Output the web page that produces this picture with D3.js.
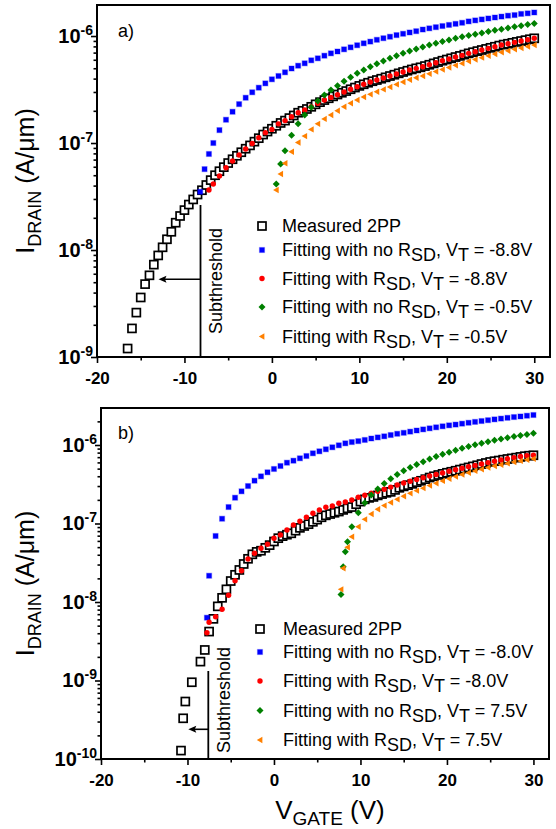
<!DOCTYPE html>
<html>
<head>
<meta charset="utf-8">
<script src="https://cdn.jsdelivr.net/npm/d3@7"></script>
<style>
  body { margin: 0; background: #fff; }
  svg { display: block; }
</style>
</head>
<body>
<svg id="chart" width="556" height="829"></svg>
<script>
// ---- data: [V_GATE (V), I_DRAIN (A/um)] ----

// panel a) measured 2PP and the four fits
const measuredA = [[-16.5,1.2e-9],[-16,1.85e-9],[-15.5,2.6e-9],[-15,3.6e-9],[-14.5,4.8e-9],[-14,5.8e-9],[-13.5,7.3e-9],[-13,8.9e-9],[-12.5,1.06e-8],[-12,1.26e-8],[-11.5,1.48e-8],[-11,1.8e-8],[-10.5,2.08e-8],[-10,2.36e-8],[-9.5,2.66e-8],[-9,2.97e-8],[-8.5,3.3e-8],[-8,3.62e-8],[-7.5,4.05e-8],[-7,4.5e-8],[-6.5,5.0e-8],[-6,5.45e-8],[-5.5,5.95e-8],[-5,6.5e-8],[-4.5,7.05e-8],[-4,7.6e-8],[-3.5,8.2e-8],[-3,8.85e-8],[-2.5,9.5e-8],[-2,1.03e-7],[-1.5,1.11e-7],[-1,1.2e-7],[-0.5,1.28e-7],[0,1.36e-7],[0.5,1.45e-7],[1,1.54e-7],[1.5,1.62e-7],[2,1.71e-7],[2.5,1.81e-7],[3,1.92e-7],[3.5,2.0e-7],[4,2.08e-7],[4.5,2.18e-7],[5,2.3e-7],[5.5,2.41e-7],[6,2.52e-7],[6.5,2.62e-7],[7,2.73e-7],[7.5,2.84e-7],[8,2.95e-7],[8.5,3.06e-7],[9,3.18e-7],[9.5,3.3e-7],[10,3.42e-7],[10.5,3.54e-7],[11,3.66e-7],[11.5,3.78e-7],[12,3.88e-7],[12.5,3.99e-7],[13,4.11e-7],[13.5,4.23e-7],[14,4.35e-7],[14.5,4.48e-7],[15,4.61e-7],[15.5,4.74e-7],[16,4.87e-7],[16.5,4.99e-7],[17,5.1e-7],[17.5,5.24e-7],[18,5.39e-7],[18.5,5.55e-7],[19,5.71e-7],[19.5,5.88e-7],[20,6.03e-7],[20.5,6.19e-7],[21,6.36e-7],[21.5,6.52e-7],[22,6.7e-7],[22.5,6.89e-7],[23,7.06e-7],[23.5,7.23e-7],[24,7.4e-7],[24.5,7.58e-7],[25,7.76e-7],[25.5,7.94e-7],[26,8.14e-7],[26.5,8.32e-7],[27,8.47e-7],[27.5,8.64e-7],[28,8.81e-7],[28.5,8.98e-7],[29,9.15e-7],[29.5,9.33e-7],[30,9.52e-7]];

const noRsdA1 = [[-8.2,3.5e-8],[-7.7,5.7e-8],[-7.2,7.9e-8],[-6.7,1.0e-7],[-6,1.32e-7],[-5.25,1.65e-7],[-4.5,1.96e-7],[-3.75,2.31e-7],[-3,2.65e-7],[-2.25,2.98e-7],[-1.5,3.29e-7],[-0.75,3.61e-7],[0,3.94e-7],[0.75,4.23e-7],[1.5,4.58e-7],[2.25,4.97e-7],[3,5.28e-7],[3.75,5.56e-7],[4.5,5.93e-7],[5.25,6.19e-7],[6,6.55e-7],[6.75,6.89e-7],[7.5,7.17e-7],[8.25,7.51e-7],[9,7.84e-7],[9.75,8.2e-7],[10.5,8.55e-7],[11.25,8.87e-7],[12,9.22e-7],[12.75,9.54e-7],[13.5,9.85e-7],[14.25,1.02e-6],[15,1.05e-6],[15.75,1.08e-6],[16.5,1.11e-6],[17.25,1.15e-6],[18,1.18e-6],[18.75,1.21e-6],[19.5,1.24e-6],[20.25,1.27e-6],[21,1.3e-6],[21.75,1.33e-6],[22.5,1.37e-6],[23.25,1.4e-6],[24,1.43e-6],[24.75,1.46e-6],[25.5,1.49e-6],[26.25,1.52e-6],[27,1.55e-6],[27.75,1.57e-6],[28.5,1.61e-6],[29.25,1.63e-6],[30,1.66e-6]];

const rsdA1 = [[-7.2,3.64e-8],[-6.7,4.14e-8],[-6,4.92e-8],[-5.25,5.88e-8],[-4.5,6.79e-8],[-3.75,7.73e-8],[-3,8.79e-8],[-2.25,9.89e-8],[-1.5,1.12e-7],[-0.75,1.25e-7],[0,1.34e-7],[0.75,1.51e-7],[1.5,1.62e-7],[2.25,1.76e-7],[3,1.92e-7],[3.75,2.04e-7],[4.5,2.18e-7],[5.25,2.35e-7],[6,2.52e-7],[6.75,2.67e-7],[7.5,2.83e-7],[8.25,3.0e-7],[9,3.18e-7],[9.75,3.36e-7],[10.5,3.54e-7],[11.25,3.72e-7],[12,3.88e-7],[12.75,4.05e-7],[13.5,4.23e-7],[14.25,4.41e-7],[15,4.61e-7],[15.75,4.81e-7],[16.5,4.99e-7],[17.25,5.16e-7],[18,5.39e-7],[18.75,5.63e-7],[19.5,5.88e-7],[20.25,6.1e-7],[21,6.36e-7],[21.75,6.6e-7],[22.5,6.89e-7],[23.25,7.14e-7],[24,7.4e-7],[24.75,7.67e-7],[25.5,7.94e-7],[26.25,8.24e-7],[27,8.47e-7],[27.75,8.73e-7],[28.5,8.98e-7],[29.25,9.24e-7],[30,9.52e-7]];

const noRsdA2 = [[0.5,4.14e-8],[1,6.36e-8],[1.5,8.47e-8],[2.25,1.18e-7],[3,1.51e-7],[3.75,1.83e-7],[4.5,2.16e-7],[5.25,2.47e-7],[6,2.81e-7],[6.75,3.13e-7],[7.5,3.43e-7],[8.25,3.77e-7],[9,4.11e-7],[9.75,4.48e-7],[10.5,4.81e-7],[11.25,5.15e-7],[12,5.51e-7],[12.75,5.85e-7],[13.5,6.2e-7],[14.25,6.55e-7],[15,6.89e-7],[15.75,7.24e-7],[16.5,7.57e-7],[17.25,7.91e-7],[18,8.24e-7],[18.75,8.56e-7],[19.5,8.88e-7],[20.25,9.2e-7],[21,9.52e-7],[21.75,9.83e-7],[22.5,1.01e-6],[23.25,1.04e-6],[24,1.07e-6],[24.75,1.1e-6],[25.5,1.13e-6],[26.25,1.16e-6],[27,1.19e-6],[27.75,1.22e-6],[28.5,1.25e-6],[29.25,1.28e-6],[30,1.31e-6]];

const rsdA2 = [[0.5,3.64e-8],[1,5.13e-8],[1.5,6.46e-8],[2.25,8.29e-8],[3,1.01e-7],[3.75,1.16e-7],[4.5,1.34e-7],[5.25,1.51e-7],[6,1.68e-7],[6.75,1.83e-7],[7.5,2.0e-7],[8.25,2.18e-7],[9,2.35e-7],[9.75,2.52e-7],[10.5,2.69e-7],[11.25,2.85e-7],[12,3.01e-7],[12.75,3.17e-7],[13.5,3.34e-7],[14.25,3.53e-7],[15,3.72e-7],[15.75,3.9e-7],[16.5,4.07e-7],[17.25,4.23e-7],[18,4.43e-7],[18.75,4.65e-7],[19.5,4.87e-7],[20.25,5.08e-7],[21,5.32e-7],[21.75,5.55e-7],[22.5,5.81e-7],[23.25,6.04e-7],[24,6.28e-7],[24.75,6.53e-7],[25.5,6.79e-7],[26.25,7.06e-7],[27,7.27e-7],[27.75,7.51e-7],[28.5,7.74e-7],[29.25,7.98e-7],[30,8.24e-7]];

// panel b)
const measuredB = [[-10.75,1.28e-10],[-10.5,3.3e-10],[-10.25,5.4e-10],[-9.5,9.5e-10],[-8.5,1.74e-9],[-8,2.45e-9],[-7.5,4.2e-9],[-7,6.1e-9],[-6.5,8.8e-9],[-6,1.13e-8],[-5.5,1.45e-8],[-5,1.85e-8],[-4.5,2.22e-8],[-4,2.56e-8],[-3.5,3.05e-8],[-3,3.55e-8],[-2.5,4.05e-8],[-2,4.35e-8],[-1.5,4.5e-8],[-1,4.9e-8],[-0.5,5.3e-8],[0,5.9e-8],[0.5,6.5e-8],[1,6.9e-8],[1.5,7.2e-8],[2,7.5e-8],[2.5,8.1e-8],[3,8.8e-8],[3.5,9.3e-8],[4,9.8e-8],[4.5,1.05e-7],[5,1.12e-7],[5.5,1.2e-7],[6,1.27e-7],[6.5,1.32e-7],[7,1.37e-7],[7.5,1.42e-7],[8,1.49e-7],[8.5,1.56e-7],[9,1.62e-7],[9.5,1.76e-7],[10,1.9e-7],[10.5,2.03e-7],[11,2.12e-7],[11.5,2.18e-7],[12,2.28e-7],[12.5,2.37e-7],[13,2.46e-7],[13.5,2.53e-7],[14,2.68e-7],[14.5,2.85e-7],[15,2.97e-7],[15.5,3.08e-7],[16,3.2e-7],[16.5,3.36e-7],[17,3.5e-7],[17.5,3.67e-7],[18,3.85e-7],[18.5,4.0e-7],[19,4.15e-7],[19.5,4.29e-7],[20,4.43e-7],[20.5,4.56e-7],[21,4.7e-7],[21.5,4.86e-7],[22,5.02e-7],[22.5,5.18e-7],[23,5.34e-7],[23.5,5.52e-7],[24,5.72e-7],[24.5,5.9e-7],[25,6.08e-7],[25.5,6.22e-7],[26,6.34e-7],[26.5,6.5e-7],[27,6.63e-7],[27.5,6.76e-7],[28,6.9e-7],[28.5,7.05e-7],[29,7.2e-7],[29.5,7.3e-7],[30,7.4e-7]];

const noRsdB1 = [[-7.75,6.31e-9],[-7.5,2.16e-8],[-6.75,6.93e-8],[-6,1.15e-7],[-5.25,1.62e-7],[-4.5,2.13e-7],[-3.75,2.57e-7],[-3,3.0e-7],[-2.25,3.51e-7],[-1.5,3.99e-7],[-0.75,4.49e-7],[0,4.95e-7],[0.75,5.4e-7],[1.5,5.95e-7],[2.25,6.31e-7],[3,6.77e-7],[3.75,7.24e-7],[4.5,7.84e-7],[5.25,8.31e-7],[6,8.82e-7],[6.75,9.35e-7],[7.5,9.91e-7],[8.25,1.05e-6],[9,1.09e-6],[9.75,1.12e-6],[10.5,1.16e-6],[11.25,1.21e-6],[12,1.25e-6],[12.75,1.29e-6],[13.5,1.34e-6],[14.25,1.39e-6],[15,1.43e-6],[15.75,1.48e-6],[16.5,1.53e-6],[17.25,1.58e-6],[18,1.63e-6],[18.75,1.68e-6],[19.5,1.73e-6],[20.25,1.78e-6],[21,1.82e-6],[21.75,1.87e-6],[22.5,1.92e-6],[23.25,1.97e-6],[24,2.02e-6],[24.75,2.07e-6],[25.5,2.12e-6],[26.25,2.17e-6],[27,2.22e-6],[27.75,2.27e-6],[28.5,2.31e-6],[29.25,2.36e-6],[30,2.41e-6]];

const rsdB1 = [[-7.75,4.06e-9],[-7.5,5.51e-9],[-6.75,6.5e-9],[-6,8.07e-9],[-5.25,1.22e-8],[-4.5,1.87e-8],[-3.75,2.5e-8],[-3,3.53e-8],[-2.25,4.17e-8],[-1.5,4.83e-8],[-0.75,5.43e-8],[0,6.48e-8],[0.75,7.14e-8],[1.5,8.26e-8],[2.25,9.57e-8],[3,1.07e-7],[3.75,1.2e-7],[4.5,1.35e-7],[5.25,1.49e-7],[6,1.61e-7],[6.75,1.67e-7],[7.5,1.81e-7],[8.25,1.88e-7],[9,1.99e-7],[9.75,2.16e-7],[10.5,2.29e-7],[11.25,2.43e-7],[12,2.57e-7],[12.75,2.73e-7],[13.5,2.91e-7],[14.25,3.09e-7],[15,3.28e-7],[15.75,3.46e-7],[16.5,3.64e-7],[17.25,3.82e-7],[18,4.02e-7],[18.75,4.21e-7],[19.5,4.41e-7],[20.25,4.62e-7],[21,4.83e-7],[21.75,5.05e-7],[22.5,5.28e-7],[23.25,5.5e-7],[24,5.73e-7],[24.75,5.97e-7],[25.5,6.2e-7],[26.25,6.44e-7],[27,6.67e-7],[27.75,6.91e-7],[28.5,7.14e-7],[29.25,7.33e-7],[30,7.41e-7]];

const noRsdB2 = [[7.75,1.25e-8],[8,2.82e-8],[8.25,4.37e-8],[8.5,5.86e-8],[9,9.11e-8],[9.75,1.37e-7],[10.5,1.84e-7],[11.25,2.31e-7],[12,2.75e-7],[12.75,3.23e-7],[13.5,3.72e-7],[14.25,4.21e-7],[15,4.71e-7],[15.75,5.18e-7],[16.5,5.66e-7],[17.25,6.14e-7],[18,6.63e-7],[18.75,7.12e-7],[19.5,7.61e-7],[20.25,8.1e-7],[21,8.59e-7],[21.75,9.08e-7],[22.5,9.57e-7],[23.25,1.01e-6],[24,1.05e-6],[24.75,1.1e-6],[25.5,1.15e-6],[26.25,1.19e-6],[27,1.24e-6],[27.75,1.28e-6],[28.5,1.32e-6],[29.25,1.36e-6],[30,1.41e-6]];

const rsdB2 = [[7.75,1.45e-8],[8,2.69e-8],[8.5,4.98e-8],[9,6.79e-8],[9.75,9.11e-8],[10.5,1.13e-7],[11.25,1.32e-7],[12,1.52e-7],[12.75,1.69e-7],[13.5,1.85e-7],[14.25,2.03e-7],[15,2.22e-7],[15.75,2.42e-7],[16.5,2.62e-7],[17.25,2.82e-7],[18,3.04e-7],[18.75,3.26e-7],[19.5,3.49e-7],[20.25,3.72e-7],[21,3.96e-7],[21.75,4.2e-7],[22.5,4.44e-7],[23.25,4.68e-7],[24,4.92e-7],[24.75,5.15e-7],[25.5,5.39e-7],[26.25,5.61e-7],[27,5.83e-7],[27.75,6.06e-7],[28.5,6.27e-7],[29.25,6.48e-7],[30,6.67e-7]];

// axis ticks and legend text
const xMajorTicks = [-20, -10, 0, 10, 20, 30];
const xMinorTicks = [-15, -5, 5, 15, 25];
const yMajorTicksA = [1e-9, 1e-8, 1e-7, 1e-6];
const yMajorTicksB = [1e-10, 1e-9, 1e-8, 1e-7, 1e-6];
const legendVtA = ['-8.8V', '-8.8V', '-0.5V', '-0.5V'];
const legendVtB = ['-8.0V', '-8.0V', '7.5V', '7.5V'];

const FONT = "'Liberation Sans', Arial, Helvetica, sans-serif";
const svg = d3.select('#chart');

// marker shapes, drawn around (0,0)
function drawShape(sel, kind) {
  if (kind === 'measured') {
    sel.append('rect').attr('x', -4).attr('y', -4).attr('width', 8).attr('height', 8)
      .attr('fill', '#fff').attr('stroke', '#000').attr('stroke-width', 1.7);
  } else if (kind === 'noRsd1') {
    sel.append('rect').attr('x', -2.5).attr('y', -2.5).attr('width', 5).attr('height', 5)
      .attr('fill', '#0000ff').attr('stroke', 'rgba(0,0,255,0.3)').attr('stroke-width', 1.2);
  } else if (kind === 'rsd1') {
    sel.append('circle').attr('r', 2.7).attr('fill', '#ff0000');
  } else if (kind === 'noRsd2') {
    sel.append('path').attr('d', 'M0,-3.5L3.5,0L0,3.5L-3.5,0Z').attr('fill', '#008000');
  } else {
    sel.append('path').attr('d', 'M-3.2,0L2.4,-3.2L2.4,3.2Z').attr('fill', '#ff8000');
  }
}

function minorLogTicks(domain) {
  const out = [];
  const lo = Math.floor(Math.log10(domain[0]));
  const hi = Math.ceil(Math.log10(domain[1]));
  for (let e = lo; e < hi; e++) {
    for (let k = 2; k <= 9; k++) {
      const v = k * Math.pow(10, e);
      if (v > domain[0] && v < domain[1]) out.push(v);
    }
  }
  return out;
}

// text with subscripts: parts = [[text, isSub], ...]
function richText(t, parts, size, subSize, shift) {
  let down = false;
  parts.forEach(([s, sub]) => {
    let dy = 0;
    if (sub && !down) { dy = shift; down = true; }
    else if (!sub && down) { dy = -shift; down = false; }
    t.append('tspan')
      .attr('font-size', sub ? subSize : size)
      .attr('dy', dy)
      .text(s);
  });
}

function drawPanel(p) {
  const g = svg.append('g');
  const x = d3.scaleLinear().domain(p.xDomain).range([p.left, p.right]);
  const y = d3.scaleLog().domain(p.yDomain).range([p.bottom, p.top]);

  // x axis: major + minor ticks
  const gx = g.append('g').attr('transform', `translate(0,${p.bottom})`);
  gx.call(d3.axisBottom(x).tickValues(xMajorTicks).tickSize(6).tickPadding(9)
    .tickFormat(d => String(d)));
  gx.append('g').call(d3.axisBottom(x).tickValues(xMinorTicks).tickSize(3.5).tickFormat(''));
  gx.selectAll('.domain').remove();
  gx.selectAll('line').attr('stroke', '#000').attr('stroke-width', 1.6);
  gx.selectAll('text').attr('font-family', FONT).attr('font-size', 17)
    .attr('font-weight', 'bold').attr('fill', '#000');

  // y axis: log decades with superscript labels
  const gy = g.append('g').attr('transform', `translate(${p.left},0)`);
  gy.call(d3.axisLeft(y).tickValues(p.yMajor).tickSize(6).tickFormat(''));
  gy.append('g').call(d3.axisLeft(y).tickValues(minorLogTicks(p.yDomain)).tickSize(3.5).tickFormat(''));
  gy.selectAll('.domain').remove();
  gy.selectAll('line').attr('stroke', '#000').attr('stroke-width', 1.6);
  p.yMajor.forEach(v => {
    const t = g.append('text')
      .attr('x', p.left - 4).attr('y', y(v) + 7)
      .attr('text-anchor', 'end')
      .attr('font-family', FONT).attr('font-weight', 'bold').attr('font-size', 20);
    t.append('tspan').text('10');
    t.append('tspan').attr('font-size', 14).attr('dy', -8).text(String(Math.round(Math.log10(v))));
  });

  // frame
  g.append('rect')
    .attr('x', p.left).attr('y', p.top)
    .attr('width', p.right - p.left).attr('height', p.bottom - p.top)
    .attr('fill', 'none').attr('stroke', '#000').attr('stroke-width', 2);

  // scatter series
  p.series.forEach(s => {
    g.append('g').selectAll('g').data(s.data).join('g')
      .attr('transform', d => `translate(${x(d[0])},${y(d[1])})`)
      .each(function () { drawShape(d3.select(this), s.kind); });
  });

  // subthreshold marker line and arrow
  g.append('line')
    .attr('x1', p.sub.x).attr('x2', p.sub.x)
    .attr('y1', p.sub.top).attr('y2', p.bottom)
    .attr('stroke', '#000').attr('stroke-width', 1.8);
  g.append('line')
    .attr('x1', p.sub.x).attr('x2', p.sub.tip + 5)
    .attr('y1', p.sub.arrowY).attr('y2', p.sub.arrowY)
    .attr('stroke', '#000').attr('stroke-width', 1.6);
  g.append('path')
    .attr('d', `M${p.sub.tip},${p.sub.arrowY}l8,-3.5l-1.5,3.5l1.5,3.5Z`)
    .attr('fill', '#000');
  g.append('text')
    .attr('transform', `translate(${p.sub.textX},${p.sub.textY}) rotate(-90)`)
    .attr('text-anchor', 'middle')
    .attr('font-family', FONT).attr('font-size', 18)
    .text('Subthreshold');

  // panel tag
  g.append('text')
    .attr('x', 118).attr('y', p.tagY)
    .attr('font-family', FONT).attr('font-size', 18)
    .text(p.tag);

  // legend
  const rows = [[['Measured 2PP', false]]].concat(p.legendVt.map((vt, i) => [
    [i % 2 === 0 ? 'Fitting with no R' : 'Fitting with R', false],
    ['SD', true], [', V', false], ['T', true], [' = ' + vt, false]
  ]));
  const kinds = ['measured', 'noRsd1', 'rsd1', 'noRsd2', 'rsd2'];
  rows.forEach((parts, i) => {
    const my = p.legend.rows[i];
    const m = g.append('g').attr('transform', `translate(${p.legend.mx},${my})`);
    drawShape(m, kinds[i]);
    const t = g.append('text')
      .attr('x', p.legend.tx).attr('y', my + 6)
      .attr('font-family', FONT).attr('font-size', 18).attr('fill', '#000');
    richText(t, parts, 18, 18, 5);
  });

  // y axis title
  const yt = g.append('text')
    .attr('transform', `translate(34,${(p.top + p.bottom) / 2}) rotate(-90)`)
    .attr('text-anchor', 'middle')
    .attr('font-family', FONT).attr('font-size', 25);
  richText(yt, [['I', false], ['DRAIN', true], [' (A/\u03bcm)', false]], 25, 18, 7);

  return { x, y };
}

drawPanel({
  left: 97, right: 550, top: 5, bottom: 357,
  xDomain: [-20, 31.8], yDomain: [1e-9, 1.95e-6], yMajor: yMajorTicksA,
  tag: 'a)', tagY: 37,
  series: [
    { kind: 'measured', data: measuredA },
    { kind: 'noRsd1', data: noRsdA1 },
    { kind: 'rsd1', data: rsdA1 },
    { kind: 'noRsd2', data: noRsdA2 },
    { kind: 'rsd2', data: rsdA2 }
  ],
  sub: { x: 200.5, top: 205, arrowY: 279.3, tip: 158.5, textX: 221.5, textY: 281 },
  legend: { mx: 262, tx: 282, rows: [226, 250, 278.5, 307, 336.5] },
  legendVt: legendVtA
});

drawPanel({
  left: 101, right: 549, top: 408, bottom: 759,
  xDomain: [-20, 31.8], yDomain: [1e-10, 2.96e-6], yMajor: yMajorTicksB,
  tag: 'b)', tagY: 439,
  series: [
    { kind: 'measured', data: measuredB },
    { kind: 'noRsd1', data: noRsdB1 },
    { kind: 'rsd1', data: rsdB1 },
    { kind: 'noRsd2', data: noRsdB2 },
    { kind: 'rsd2', data: rsdB2 }
  ],
  sub: { x: 208.3, top: 671, arrowY: 729.3, tip: 188.3, textX: 229.5, textY: 700 },
  legend: { mx: 260, tx: 283, rows: [629, 652, 681, 710.5, 740] },
  legendVt: legendVtB
});

// x axis title (bottom panel only)
const xt = svg.append('text')
  .attr('x', 330).attr('y', 819)
  .attr('text-anchor', 'middle')
  .attr('font-family', FONT).attr('font-size', 26);
richText(xt, [['V', false], ['GATE', true], [' (V)', false]], 26, 19, 6);
</script>
</body>
</html>
